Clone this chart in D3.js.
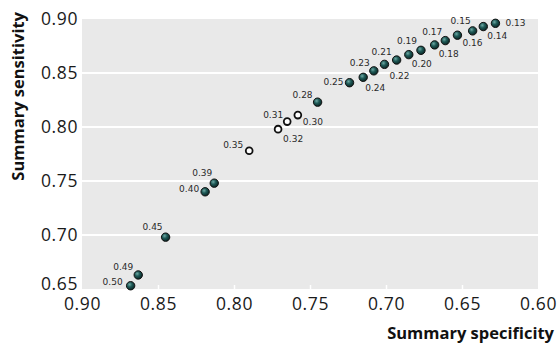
<!DOCTYPE html>
<html>
<head>
<meta charset="utf-8">
<script src="https://cdn.jsdelivr.net/npm/d3@7"></script>
<style>
  body { margin: 0; background: #fff; }
  svg { display: block; }
</style>
</head>
<body>
<svg id="chart"></svg>
<script>
// thresholds, summary specificity and sensitivity
const thresholds = ["0.13", "0.14", "0.15", "0.16", "0.17", "0.18", "0.19", "0.20",
  "0.21", "0.22", "0.23", "0.24", "0.25", "0.28", "0.30", "0.31", "0.32", "0.35",
  "0.39", "0.40", "0.45", "0.49", "0.50"];
const specificity = [0.628, 0.636, 0.643, 0.653, 0.661, 0.668, 0.677, 0.685,
  0.693, 0.701, 0.708, 0.715, 0.724, 0.745, 0.758, 0.765, 0.771, 0.790,
  0.813, 0.819, 0.845, 0.863, 0.868];
const sensitivity = [0.896, 0.893, 0.889, 0.885, 0.880, 0.876, 0.871, 0.867,
  0.862, 0.858, 0.852, 0.846, 0.841, 0.823, 0.811, 0.805, 0.798, 0.778,
  0.748, 0.740, 0.698, 0.663, 0.653];
const openPoints = ["0.30", "0.31", "0.32", "0.35"];

const xTicks = [0.90, 0.85, 0.80, 0.75, 0.70, 0.65, 0.60];
const yTicks = [0.65, 0.70, 0.75, 0.80, 0.85, 0.90];

// label offsets from each point: [dx, dy, anchor]
const labelPos = {
  "0.13": [10, 0, "start"], "0.14": [4, 9, "start"], "0.15": [-2, -10, "end"],
  "0.16": [5, 8, "start"], "0.17": [-3, -9, "end"], "0.18": [4, 9, "start"],
  "0.19": [-4, -9, "end"], "0.20": [3, 9, "start"], "0.21": [-5, -8, "end"],
  "0.22": [5, 11, "start"], "0.23": [-4, -8, "end"], "0.24": [2, 11, "start"],
  "0.25": [-6, -1, "end"], "0.28": [-5, -7, "end"], "0.30": [5, 7, "start"],
  "0.31": [-4, -7, "end"], "0.32": [5, 10, "start"], "0.35": [-6, -6, "end"],
  "0.39": [-2, -10, "end"], "0.40": [-6, -3, "end"], "0.45": [-3, -10, "end"],
  "0.49": [-5, -8, "end"], "0.50": [-8, -4, "end"]
};

const WIDTH = 558;
const HEIGHT = 345;
const LEFT = 82, RIGHT = 538, TOP = 19, BOTTOM = 289;

const svg = d3.select("#chart").attr("width", WIDTH).attr("height", HEIGHT);

const points = thresholds.map((t, i) => ({
  label: t,
  x: specificity[i],
  y: sensitivity[i],
  open: openPoints.includes(t)
}));

const scaleX = d3.scaleLinear().domain([0.90, 0.60]).range([LEFT, RIGHT]);
const scaleY = d3.scaleLinear().domain([0.65, 0.90]).range([BOTTOM, TOP]);

const defs = svg.append("defs");
const grad = defs.append("radialGradient")
  .attr("id", "ball")
  .attr("cx", "38%").attr("cy", "35%").attr("r", "65%");
grad.append("stop").attr("offset", "0%").attr("stop-color", "#6fa9a4");
grad.append("stop").attr("offset", "45%").attr("stop-color", "#1f5a57");
grad.append("stop").attr("offset", "100%").attr("stop-color", "#0a2726");

// panel
svg.append("rect")
  .attr("x", LEFT).attr("y", TOP)
  .attr("width", RIGHT - LEFT).attr("height", BOTTOM - TOP)
  .attr("fill", "#e9e9e9");

// horizontal grid
svg.append("g")
  .selectAll("line")
  .data(yTicks.slice(1, -1))
  .join("line")
  .attr("x1", LEFT).attr("x2", RIGHT)
  .attr("y1", (d) => scaleY(d)).attr("y2", (d) => scaleY(d))
  .attr("stroke", "#fff").attr("stroke-width", 2);

// y axis labels
const axisY = d3.axisLeft(scaleY).tickValues(yTicks)
  .tickFormat(d3.format(".2f")).tickSize(0).tickPadding(4);
const gy = svg.append("g")
  .attr("transform", `translate(${LEFT}, 0)`)
  .call(axisY);
gy.select(".domain").remove();
gy.selectAll("text")
  .attr("font-family", "'Open Sans', sans-serif")
  .attr("font-size", 17.5)
  .attr("letter-spacing", 0.6)
  .attr("fill", "#1a1a1a");
// lowest label sits a little higher, clear of the x labels
gy.selectAll(".tick")
  .filter((d) => d < 0.66)
  .select("text")
  .attr("y", -5);

// x axis: white ticks inside panel, labels below
const axisX = d3.axisBottom(scaleX).tickValues(xTicks)
  .tickFormat(d3.format(".2f")).tickSize(0).tickPadding(9);
const gx = svg.append("g")
  .attr("transform", `translate(0, ${BOTTOM})`)
  .call(axisX);
gx.select(".domain").remove();
gx.selectAll("text")
  .attr("font-family", "'Open Sans', sans-serif")
  .attr("font-size", 17.5)
  .attr("letter-spacing", 0.6)
  .attr("fill", "#1a1a1a");
gx.selectAll(".tick")
  .filter((d) => d < 0.89 && d > 0.61)
  .append("line")
  .attr("y1", 0).attr("y2", -4)
  .attr("stroke", "#fff").attr("stroke-width", 1.5);

// points
svg.append("g")
  .selectAll("circle")
  .data(points)
  .join("circle")
  .attr("cx", (d) => scaleX(d.x))
  .attr("cy", (d) => scaleY(d.y))
  .attr("r", (d) => (d.open ? 3.4 : 4.2))
  .attr("fill", (d) => (d.open ? "#fff" : "url(#ball)"))
  .attr("stroke", "#111")
  .attr("stroke-width", (d) => (d.open ? 1.8 : 1));

// point labels
svg.append("g")
  .selectAll("text")
  .data(points)
  .join("text")
  .attr("x", (d) => scaleX(d.x) + labelPos[d.label][0])
  .attr("y", (d) => scaleY(d.y) + labelPos[d.label][1])
  .attr("dy", "0.35em")
  .attr("text-anchor", (d) => labelPos[d.label][2])
  .attr("font-family", "'DejaVu Sans', sans-serif")
  .attr("font-size", 9)
  .attr("fill", "#2a2a2a")
  .text((d) => d.label);

// axis titles
svg.append("text")
  .attr("x", 554).attr("y", 339)
  .attr("text-anchor", "end")
  .attr("font-family", "'Open Sans', sans-serif")
  .attr("font-weight", "bold")
  .attr("font-size", 16.5)
  .attr("fill", "#111")
  .text("Summary specificity");

svg.append("text")
  .attr("transform", "translate(24, 12) rotate(-90)")
  .attr("text-anchor", "end")
  .attr("font-family", "'Open Sans', sans-serif")
  .attr("font-weight", "bold")
  .attr("font-size", 16.5)
  .attr("fill", "#111")
  .text("Summary sensitivity");
</script>
</body>
</html>
